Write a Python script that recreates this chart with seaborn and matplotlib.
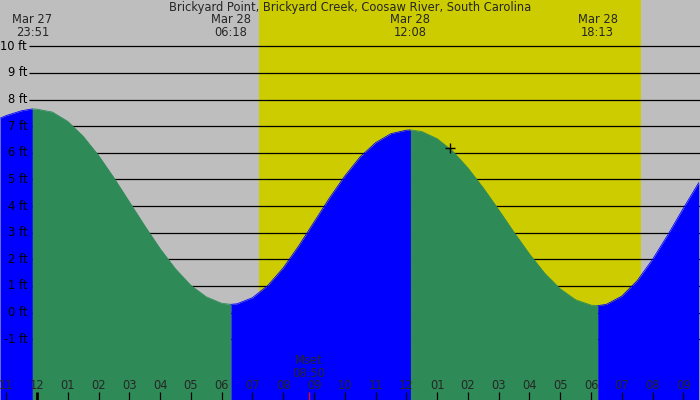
import matplotlib
matplotlib.use("Agg")
import matplotlib.pyplot as plt
import seaborn as sns
import pandas as pd

# ---------------- data (hours since Mar 28 00:00, water level in ft) ----------------
title = "Brickyard Point, Brickyard Creek, Coosaw River, South Carolina"

tide_hours = [-1.2, -1.0, -0.5, -0.15,
              0.0, 0.5, 1.0, 1.5, 2.0, 2.5, 3.0, 3.5, 4.0, 4.5, 5.0, 5.5, 6.0, 6.3,
              6.5, 7.0, 7.5, 8.0, 8.5, 9.0, 9.5, 10.0, 10.5, 11.0, 11.5, 12.0, 12.133,
              12.5, 13.0, 13.5, 14.0, 14.5, 15.0, 15.5, 16.0, 16.5, 17.0, 17.5, 18.0, 18.217,
              18.5, 19.0, 19.5, 20.0, 20.5, 21.0, 21.5, 21.6]
tide_ft = [7.30, 7.40, 7.58, 7.65,
           7.64, 7.53, 7.18, 6.62, 5.90, 5.06, 4.16, 3.26, 2.40, 1.64, 1.02, 0.59, 0.35, 0.31,
           0.33, 0.56, 1.02, 1.68, 2.50, 3.40, 4.30, 5.13, 5.85, 6.38, 6.72, 6.85, 6.86,
           6.80, 6.53, 6.07, 5.43, 4.68, 3.86, 3.01, 2.20, 1.47, 0.89, 0.48, 0.28, 0.26,
           0.31, 0.62, 1.20, 2.00, 2.93, 3.92, 4.88, 5.06]

extreme_hours = [-0.15, 6.3, 12.133, 18.217]
extreme_dates = ["Mar 27", "Mar 28", "Mar 28", "Mar 28"]
extreme_times = ["23:51", "06:18", "12:08", "18:13"]

sunrise_h, sunset_h = 7.2, 19.62
moonset_h = 8.833
moonset_name, moonset_time = "Mset", "08:50"
now_h, now_ft = 13.42, 6.2

ft_ticks = list(range(-1, 11))
hour_ticks = list(range(-1, 22))
hour_labels = ["11", "12", "01", "02", "03", "04", "05", "06", "07", "08", "09", "10",
               "11", "12", "01", "02", "03", "04", "05", "06", "07", "08", "09"]

# ---------------- styling ----------------
GRAY = "#bebebe"
YELLOW = "#cccc00"
BLUE = "#0000ff"
GREEN = "#2e8b57"

sns.set_style("white")
plt.rcParams["font.family"] = ["DejaVu Sans"]
FS = 8.3

W, H = 700, 400
fig = plt.figure(figsize=(W / 100, H / 100), dpi=100)
fig.patch.set_facecolor(GRAY)
ax = fig.add_axes([0, 0, 1, 1])
ax.set_facecolor(GRAY)
X0, X1 = -1.202, 21.54
Y0, Y1 = -3.282, 11.739
ax.set_xlim(X0, X1)
ax.set_ylim(Y0, Y1)
for s in ax.spines.values():
    s.set_visible(False)
ax.set_xticks([])
ax.set_yticks([])

# daylight band
ax.axvspan(sunrise_h, sunset_h, color=YELLOW, lw=0, zorder=0)

# grid lines behind the water
ytr = ax.get_yaxis_transform()
ax.hlines(ft_ticks, 29.3 / W, 1.0, transform=ytr, colors="black", lw=0.9, zorder=1)

# tide curve, split at highs/lows: blue when rising, green when falling
df = pd.DataFrame({"hours": tide_hours, "ft": tide_ft})
bounds = [X0] + extreme_hours + [X1]
for a, b in zip(bounds[:-1], bounds[1:]):
    seg = df[(df["hours"] >= a - 1e-9) & (df["hours"] <= b + 1e-9)]
    rising = seg["ft"].iloc[-1] > seg["ft"].iloc[0]
    col = BLUE if rising else GREEN
    ax.fill_between(seg["hours"], seg["ft"], Y0, color=col, lw=0, zorder=2)
    sns.lineplot(data=seg, x="hours", y="ft", color=col, lw=0.6, ax=ax,
                 legend=False, zorder=2.1, estimator=None, sort=False)
ax.set_xlabel("")
ax.set_ylabel("")

# ft labels
for v in ft_ticks:
    ax.text(27 / W, v, f"{v} ft", transform=ytr, ha="right", va="center",
            fontsize=FS, color="black", zorder=5)

# title and extreme labels
ax.text(0.5, 1 - 7.5 / H, title, transform=ax.transAxes, ha="center", va="center",
        fontsize=FS, zorder=5)
xtr = ax.get_xaxis_transform()
for h, d, t in zip(extreme_hours, extreme_dates, extreme_times):
    ax.text(h, 1 - 19.5 / H, d, transform=xtr, ha="center", va="center", fontsize=FS, zorder=5)
    ax.text(h, 1 - 32 / H, t, transform=xtr, ha="center", va="center", fontsize=FS, zorder=5)

# hour ticks and labels
for h, lab in zip(hour_ticks, hour_labels):
    lw = 2.0 if h == 0 else 0.9
    ax.vlines(h, 0, 8.5 / H, transform=xtr, colors="black", lw=lw, zorder=5)
    ax.text(h, 14.3 / H, lab, transform=xtr, ha="center", va="center", fontsize=FS, zorder=5)

# moonset
ax.vlines(moonset_h, 0, 8.5 / H, transform=xtr, colors="red", lw=0.9, zorder=5)
ax.text(moonset_h, 39.5 / H, moonset_name, transform=xtr, ha="center", va="center", fontsize=FS, zorder=5)
ax.text(moonset_h, 26.3 / H, moonset_time, transform=xtr, ha="center", va="center", fontsize=FS, zorder=5)

# current-time marker
ax.plot([now_h], [now_ft], marker="+", ms=7, mew=1.0, color="black", zorder=6, ls="none")

fig.savefig("out.png", dpi=100, facecolor=GRAY)
